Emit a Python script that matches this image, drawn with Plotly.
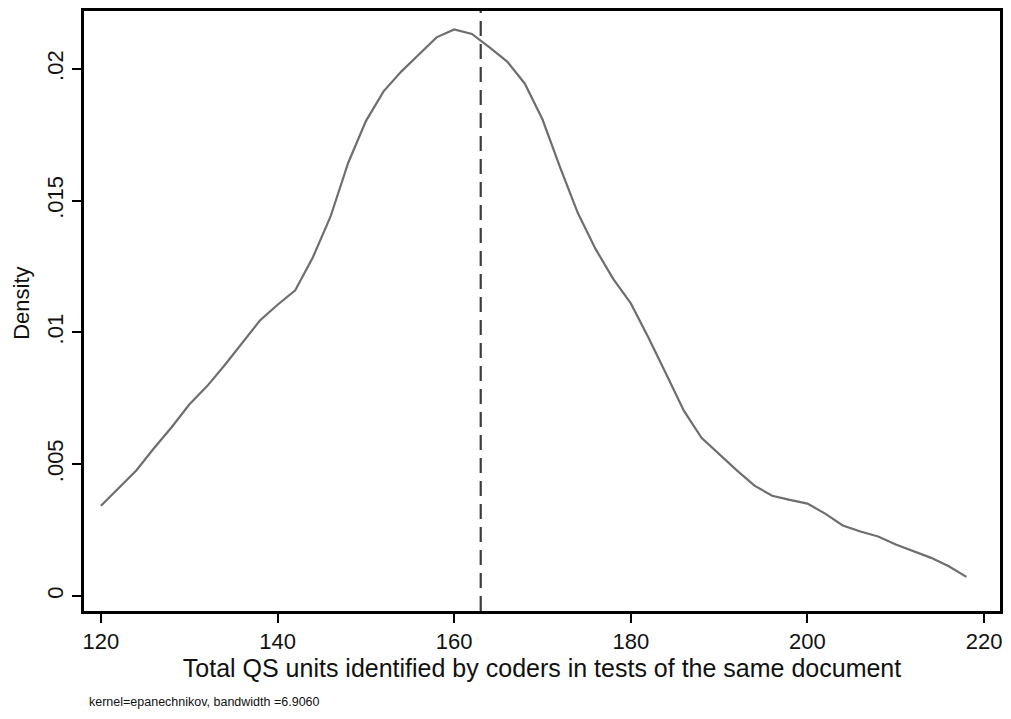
import plotly.graph_objects as go

# Kernel density estimate (evaluated at 50 points)
x_points = [120, 122, 124, 126, 128, 130, 132, 134, 136, 138,
            140, 142, 144, 146, 148, 150, 152, 154, 156, 158,
            160, 162, 164, 166, 168, 170, 172, 174, 176, 178,
            180, 182, 184, 186, 188, 190, 192, 194, 196, 198,
            200, 202, 204, 206, 208, 210, 212, 214, 216, 218]
density = [0.00342, 0.00410, 0.00476, 0.00560, 0.00640, 0.00726, 0.00795, 0.00875, 0.00960, 0.01045,
           0.01105, 0.01160, 0.01285, 0.01440, 0.01644, 0.01802, 0.01915, 0.01990, 0.02055, 0.02120,
           0.02150, 0.02133, 0.02082, 0.02028, 0.01944, 0.01808, 0.01625, 0.01453, 0.01317, 0.01203,
           0.01110, 0.00980, 0.00842, 0.00703, 0.00600, 0.00537, 0.00476, 0.00418, 0.00380, 0.00364,
           0.00350, 0.00312, 0.00267, 0.00244, 0.00225, 0.00195, 0.00170, 0.00144, 0.00112, 0.00072]
mean_line_x = 163.0

x_ticks = [120, 140, 160, 180, 200, 220]
y_ticks = [0, 0.005, 0.01, 0.015, 0.02]
y_tick_labels = ["0", ".005", ".01", ".015", ".02"]

x_title = "Total QS units identified by coders in tests of the same document"
y_title = "Density"
note = "kernel=epanechnikov, bandwidth =6.9060"

FONT = "Liberation Sans, Arial, Helvetica, sans-serif"

fig = go.Figure()
fig.add_trace(go.Scatter(
    x=x_points, y=density, mode="lines",
    line=dict(color="#6e6e6e", width=2.2),
    hoverinfo="skip", showlegend=False,
))

fig.add_shape(type="line", xref="x", yref="paper",
              x0=mean_line_x, x1=mean_line_x, y0=0, y1=1,
              line=dict(color="#3c3c3c", width=2.2, dash="15px,8px"))

# note below the chart
fig.add_annotation(text=note, xref="paper", yref="paper",
                   x=0.0, y=-0.1524, xanchor="left", yanchor="middle",
                   xshift=3, showarrow=False,
                   font=dict(family=FONT, size=12.5, color="#111111"))

# y axis title
fig.add_annotation(text=y_title, xref="paper", yref="paper",
                   x=0.0, y=0.512, xanchor="center", yanchor="middle",
                   xshift=-62, textangle=-90, showarrow=False,
                   font=dict(family=FONT, size=22, color="#111111"))

fig.update_layout(
    width=1011, height=719,
    margin=dict(l=84, r=8, t=8, b=108),
    paper_bgcolor="white", plot_bgcolor="white",
    font=dict(family=FONT, color="#111111"),
    xaxis=dict(
        range=[118.08, 221.8], tickvals=x_ticks,
        ticks="outside", ticklen=9, tickwidth=2, tickcolor="black",
        showline=True, linecolor="black", linewidth=3, mirror=True,
        showgrid=False, zeroline=False,
        tickfont=dict(size=22, family=FONT, color="#111111"),
        title=dict(text=x_title, font=dict(size=25, family=FONT, color="#111111"), standoff=7),
    ),
    yaxis=dict(
        range=[-0.000577, 0.0222], tickvals=y_ticks, ticktext=y_tick_labels,
        tickangle=-90,
        ticks="outside", ticklen=9, tickwidth=2, tickcolor="black",
        showline=True, linecolor="black", linewidth=3, mirror=True,
        showgrid=False, zeroline=False,
        tickfont=dict(size=22, family=FONT, color="#111111"),
    ),
)

fig.write_html("out.html")
